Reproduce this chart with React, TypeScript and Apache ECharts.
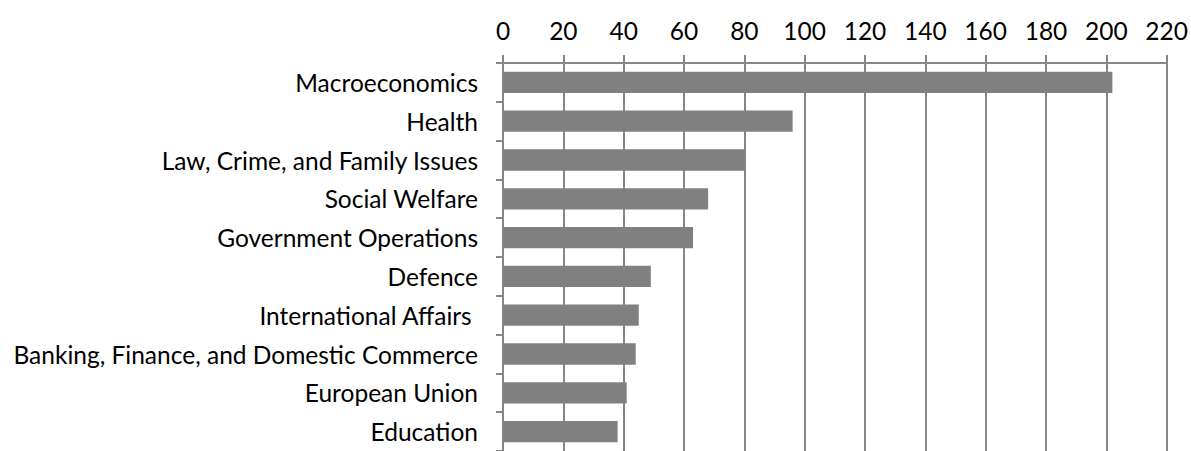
import React, { useEffect, useRef } from "react";
import * as echarts from "echarts";

const categories = [
  "Macroeconomics",
  "Health",
  "Law, Crime, and Family Issues",
  "Social Welfare",
  "Government Operations",
  "Defence",
  "International Affairs ",
  "Banking, Finance, and Domestic Commerce",
  "European Union",
  "Education",
];
const values = [202, 96, 80, 68, 63, 49, 45, 44, 41, 38];
const axisMin = 0;
const axisMax = 220;
const axisInterval = 20;

export default function App() {
  const ref = useRef<HTMLDivElement>(null);
  useEffect(() => {
    document.body.style.margin = "0";
    const chart = echarts.init(ref.current!, null, { renderer: "svg" });
    const font = "Lato";
    chart.setOption({
      animation: false,
      grid: { left: 503, right: 23, top: 63, height: 391, containLabel: false },
      xAxis: {
        type: "value",
        position: "top",
        min: axisMin,
        max: axisMax,
        interval: axisInterval,
        axisLine: { show: true, lineStyle: { color: "#868686", width: 2 } },
        axisTick: { show: true, inside: false, length: 8, lineStyle: { color: "#868686", width: 2 } },
        splitLine: { show: true, lineStyle: { color: "#868686", width: 2 } },
        axisLabel: { color: "#000", fontSize: 24.5, fontFamily: font, margin: 20 },
      },
      yAxis: {
        type: "category",
        data: categories,
        inverse: true,
        axisLine: { show: true, lineStyle: { color: "#868686", width: 2 } },
        axisTick: { show: true, length: 7, lineStyle: { color: "#868686", width: 2 } },
        axisLabel: { color: "#000", fontSize: 24.5, fontFamily: font, margin: 25 },
      },
      series: [
        {
          type: "bar",
          data: values,
          barCategoryGap: "45%",
          itemStyle: { color: "#808080" },
        },
      ],
    });
    return () => chart.dispose();
  }, []);
  return <div ref={ref} style={{ width: 1191, height: 451 }} />;
}
